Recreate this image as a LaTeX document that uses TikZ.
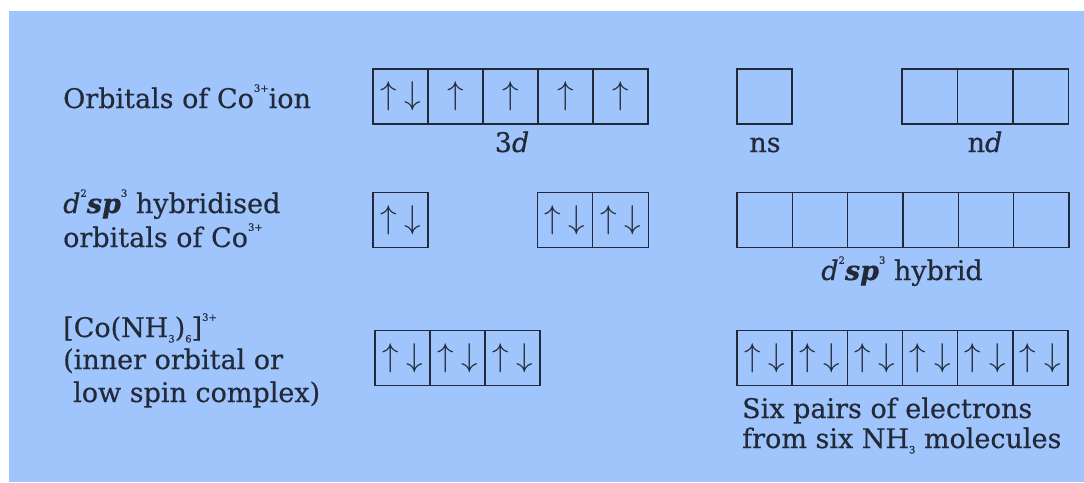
\RequirePackage{fix-cm}
\documentclass[tikz,border=0pt]{standalone}
\usepackage{fontspec}
\setmainfont{DejaVu Serif}[FakeBold=0.5]
\definecolor{bg}{RGB}{160,196,252}
\definecolor{ink}{RGB}{34,42,56}
\newcommand\upx[1]{\raisebox{0.6em}{\fontsize{10}{10}\selectfont #1}}
\newcommand\dnx[1]{\raisebox{-0.2em}{\fontsize{10}{10}\selectfont #1}}
\newcommand\ud{$\uparrow$\hspace{8pt}$\downarrow$}
\newcommand\uo{$\uparrow$}
\newcommand\dsp{\textit{d}\upx{2}\textbf{\textit{sp}}\upx{3}}
\begin{document}
\begin{tikzpicture}[x=1pt,y=-1pt,
  cell/.style={draw=ink,line width=1.4pt,minimum width=55pt,minimum height=55pt,
    inner sep=0pt,text=ink,font=\fontsize{33}{33}\selectfont},
  lbl/.style={text=ink,font=\fontsize{27}{27}\selectfont,anchor=base west,inner sep=0pt},
  sub/.style={text=ink,font=\fontsize{27}{27}\selectfont,anchor=base,inner sep=0pt}]
\fill[white] (0,0) rectangle (1084,482);
\fill[bg] (9,11) rectangle (1084,482);
\useasboundingbox (0,0) rectangle (1084,482);
% row 1
\node[cell] (d1) at (400.5,96.5) {\ud};
\node[cell] (d2) at (455.5,96.5) {\uo};
\node[cell] (d3) at (510.5,96.5) {\uo};
\node[cell] (d4) at (565.5,96.5) {\uo};
\node[cell] (d5) at (620.5,96.5) {\uo};
\node[sub] (l3d) at (512,152) {3\textit{d}};
\node[cell] (s1) at (764.5,96.5) {};
\node[sub] (lns) at (765,152) {ns};
\node[cell,minimum width=55.5pt] (n1) at (929.75,96.5) {};
\node[cell,minimum width=55.5pt] (n2) at (985.25,96.5) {};
\node[cell,minimum width=55.5pt] (n3) at (1040.75,96.5) {};
\node[sub] (lnd) at (985,152) {n\textit{d}};
% row 2
\node[cell] (h1) at (400.5,220) {\ud};
\node[cell,minimum width=55.5pt] (h2) at (565,220) {\ud};
\node[cell,minimum width=55.5pt] (h3) at (620.5,220) {\ud};
\foreach \i in {0,...,5}{
  \node[cell,minimum width=55.33pt] (k\i) at (764.7+55.33*\i,220) {};
}
\node[sub] (lhy) at (902,280) {\dsp\ hybrid};
% row 3
\node[cell] (c1) at (402.5,358) {\ud};
\node[cell] (c2) at (457.5,358) {\ud};
\node[cell] (c3) at (512.5,358) {\ud};
\foreach \i in {0,...,5}{
  \node[cell,minimum width=55.17pt] (e\i) at (764.6+55.17*\i,358) {\ud};
}
% left texts
\node[lbl] (t1) at (63,108) {Orbitals of Co\upx{3+}ion};
\node[lbl] (t2a) at (63,213) {\dsp\ hybridised};
\node[lbl] (t2b) at (63,247) {orbitals of Co\upx{3+}};
\node[lbl] (t3a) at (63,337) {[Co(NH\dnx{3})\dnx{6}]\upx{3+}};
\node[lbl] (t3b) at (63,369) {(inner orbital or};
\node[lbl] (t3c) at (73,402) {low spin complex)};
\node[lbl] (r1) at (742,418) {Six pairs of electrons};
\node[lbl] (r2) at (742,448) {from six NH\dnx{3} molecules};
\end{tikzpicture}
\end{document}
